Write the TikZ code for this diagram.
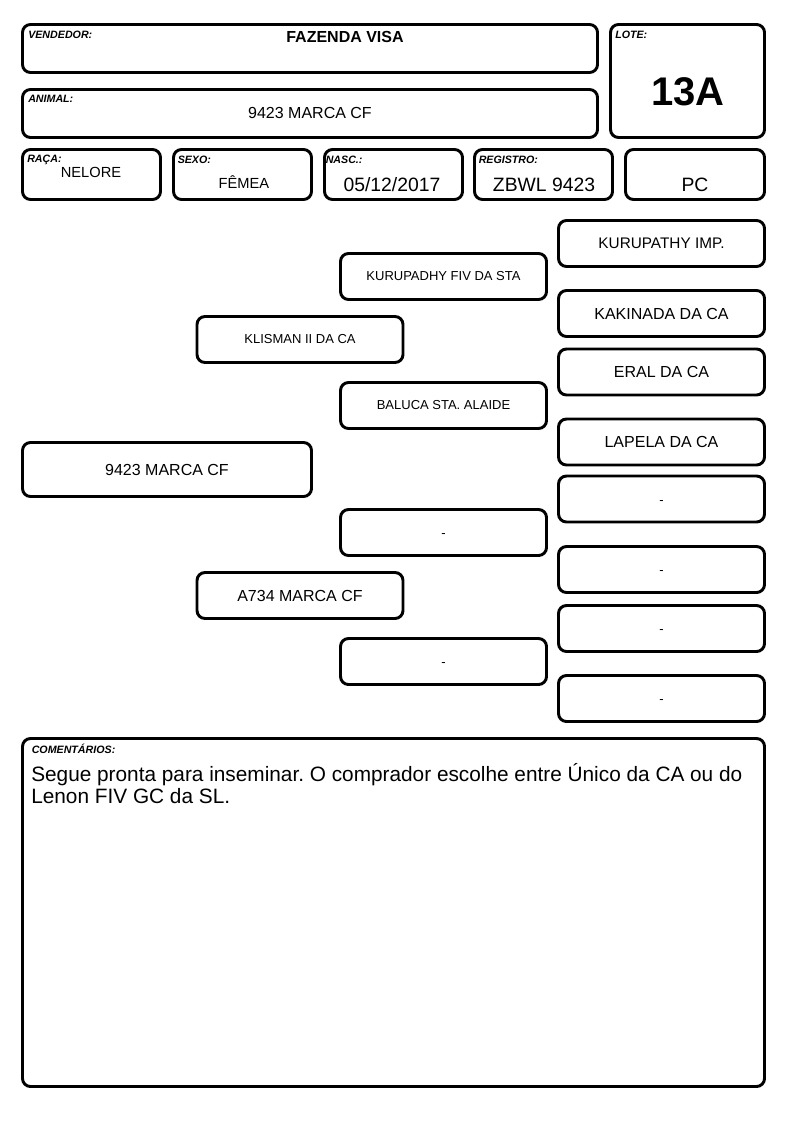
\documentclass[tikz,border=0pt]{standalone}
\usepackage{fontspec}
\setmainfont{Liberation Sans}
\usetikzlibrary{positioning}
\newcommand{\nada}{\raisebox{-3.75pt}[0pt][0pt]{-}}

\begin{document}
\begin{tikzpicture}[
x=0.75pt, y=-0.75pt,
box/.style={draw, line width=2.2pt, rounded corners=6pt, inner sep=0pt},
tag/.style={anchor=base west, inner sep=0pt, font=\bfseries\itshape\fontsize{8}{9.6}\selectfont},
value/.style={anchor=base, inner sep=0pt, font=\fontsize{#1}{#1}\selectfont},
pedbox/.style={box, minimum width=154.5pt, minimum height=34.5pt},
bigname/.style={font=\fontsize{12}{14}\selectfont},
smallname/.style={font=\fontsize{9.75}{12}\selectfont} ]

\useasboundingbox (0,0) rectangle (794,1123);

\node[box, minimum width=431.25pt, minimum height=36pt](vend) at (310,48.5) {};
\node[box, minimum width=431.25pt, minimum height=36pt](animal) at (310,113.5) {};
\node[box, minimum width=115.5pt, minimum height=84.75pt](lote) at (687.5,81) {};

\node[box, minimum width=103.5pt, minimum height=37.5pt](raca) at (91.5,174.5) {};
\node[box, minimum width=103.5pt, minimum height=37.5pt](sexo) at (242.5,174.5) {};
\node[box, minimum width=103.5pt, minimum height=37.5pt](nasc) at (393.5,174.5) {};
\node[box, minimum width=103.5pt, minimum height=37.5pt](registro) at (543.5,174.5) {};
\node[box, minimum width=104.25pt, minimum height=37.5pt](grau) at (695,174.5) {};

\node[tag](vendtag) at (28,39) {VENDEDOR:};
\node[tag](animaltag) at (28,103) {ANIMAL:};
\node[tag](lotetag) at (615,39) {LOTE:};
\node[tag](racatag) at (27,163) {RAÇA:};
\node[tag](sexotag) at (177.5,163.5) {SEXO:};
\node[tag](nasctag) at (325.5,163.5) {NASC.:};
\node[tag](registrotag) at (478.5,163.5) {REGISTRO:};

\node[value=12, font=\bfseries\fontsize{12}{12}\selectfont](vendval) at (345,43) {FAZENDA VISA};
\node[value=12](animalval) at (310,119) {9423 MARCA CF};
\node[value=30, font=\bfseries\fontsize{30}{30}\selectfont](loteval) at (688,105.5) {13A};
\node[value=11](racaval) at (91,178) {NELORE};
\node[value=11](sexoval) at (244,189) {FÊMEA};
\node[value=14.5](nascval) at (392,192) {05/12/2017};
\node[value=14.5](registroval) at (544,192) {ZBWL 9423};
\node[value=14.5](grauval) at (695,192) {PC};

\node[box, bigname, minimum width=216.75pt, minimum height=40.5pt](self) at (167,469.5) {9423 MARCA CF};

\node[pedbox, smallname](pai) at (300,339.5) {KLISMAN II DA CA};
\node[pedbox, bigname](mae) at (300,595.5) {A734 MARCA CF};

\node[pedbox, smallname](avopp) at (443.5,276.5) {KURUPADHY FIV DA STA};
\node[pedbox, smallname](avopm) at (443.5,405.5) {BALUCA STA. ALAIDE};
\node[pedbox, smallname](avomp) at (443.5,532.5) {\nada};
\node[pedbox, smallname](avomm) at (443.5,661.5) {\nada};

\node[pedbox, font=\fontsize{11.5}{13}\selectfont](bisa1) at (661.5,243.5) {KURUPATHY IMP.};
\node[pedbox, bigname](bisa2) at (661.5,313.5) {KAKINADA DA CA};
\node[pedbox, bigname](bisa3) at (661.5,372) {ERAL DA CA};
\node[pedbox, bigname](bisa4) at (661.5,442) {LAPELA DA CA};
\node[pedbox, smallname](bisa5) at (661.5,499) {\nada};
\node[pedbox, smallname](bisa6) at (661.5,569.5) {\nada};
\node[pedbox, smallname](bisa7) at (661.5,628.5) {\nada};
\node[pedbox, smallname](bisa8) at (661.5,698.5) {\nada};

\node[box, minimum width=556.5pt, minimum height=261pt](obs) at (393.5,912.5) {};
\node[tag](obstag) at (31.5,753) {COMENTÁRIOS:};
\node[anchor=base west, inner sep=0pt, align=left, font=\frenchspacing\fontsize{15.6}{16.5}\selectfont](obstext) at (31,803) {Segue pronta para inseminar. O comprador escolhe entre Único da CA ou do\\Lenon FIV GC da SL.};

\end{tikzpicture}
\end{document}
